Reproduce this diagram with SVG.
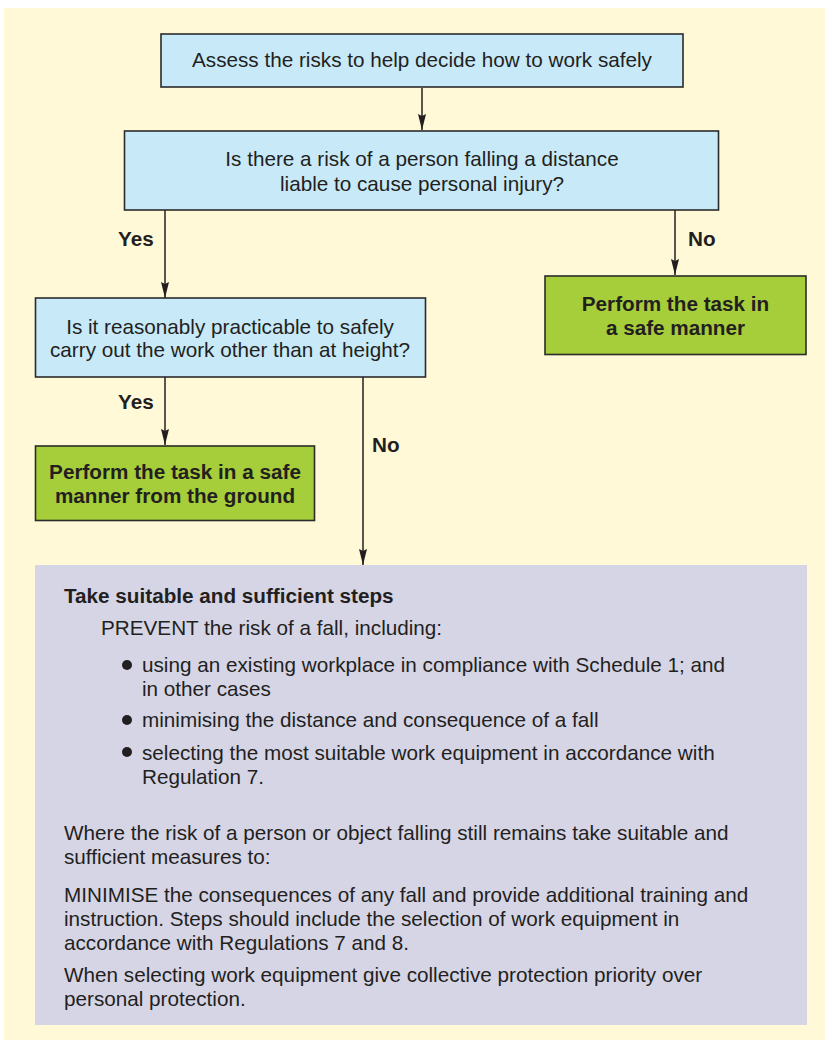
<svg xmlns="http://www.w3.org/2000/svg" width="828" height="1042" viewBox="0 0 828 1042">
<defs>
<style>
.t{font-family:"Liberation Sans",Arial,sans-serif;font-size:20.7px;fill:#231f20}
.b{font-weight:bold}
.c{text-anchor:middle}
.q{fill:#c7e9f8;stroke:#2b2b2b;stroke-width:1.6}
.g{fill:#a6cd3a;stroke:#2b2b2b;stroke-width:1.6}
.ln{stroke:#231f20;stroke-width:1.5;fill:none;marker-end:url(#ah)}
</style>
<marker id="ah" viewBox="0 0 16 8" refX="16" refY="4" markerWidth="16" markerHeight="8" markerUnits="userSpaceOnUse" orient="auto">
<path d="M0,0 L2,4 L0,8 L16,4 Z" fill="#231f20"/>
</marker>
</defs>
<rect x="0" y="0" width="828" height="1042" fill="#ffffff"/>
<rect x="4" y="8" width="821" height="1032" fill="#fff9d7"/>
<g id="connectors">
<line class="ln" x1="422" y1="88" x2="422" y2="130"/>
<line class="ln" x1="165" y1="210" x2="165" y2="298"/>
<line class="ln" x1="675" y1="210" x2="675" y2="275"/>
<line class="ln" x1="165" y1="377" x2="165" y2="445"/>
<line class="ln" x1="363" y1="377" x2="363" y2="565"/>
<text class="t b" x="118" y="246">Yes</text>
<text class="t b" x="688" y="246">No</text>
<text class="t b" x="118" y="409">Yes</text>
<text class="t b" x="372" y="452">No</text>
</g>
<g id="assess">
<rect class="q" x="161" y="34" width="522" height="53"/>
<text class="t c" x="422" y="67">Assess the risks to help decide how to work safely</text>
</g>
<g id="risk-question">
<rect class="q" x="124.5" y="131" width="594" height="79"/>
<text class="t c" x="422" y="166">Is there a risk of a person falling a distance</text>
<text class="t c" x="422" y="191">liable to cause personal injury?</text>
</g>
<g id="practicable-question">
<rect class="q" x="35.5" y="298" width="390" height="79"/>
<text class="t c" x="230" y="334">Is it reasonably practicable to safely</text>
<text class="t c" x="230" y="357">carry out the work other than at height?</text>
</g>
<g id="safe-manner">
<rect class="g" x="545" y="276" width="261" height="78.5"/>
<text class="t b c" x="675.5" y="311">Perform the task in</text>
<text class="t b c" x="675.5" y="335">a safe manner</text>
</g>
<g id="ground">
<rect class="g" x="35.5" y="446" width="279" height="74.5"/>
<text class="t b c" x="175" y="479">Perform the task in a safe</text>
<text class="t b c" x="175" y="503">manner from the ground</text>
</g>
<g id="steps">
<rect x="35" y="565" width="772" height="460" fill="#d6d5e6"/>
<text class="t b" x="64" y="603">Take suitable and sufficient steps</text>
<text class="t" x="101" y="635">PREVENT the risk of a fall, including:</text>
<circle cx="127" cy="665" r="5" fill="#231f20"/>
<text class="t" x="142" y="672">using an existing workplace in compliance with Schedule 1; and</text>
<text class="t" x="142" y="696">in other cases</text>
<circle cx="127" cy="720" r="5" fill="#231f20"/>
<text class="t" x="142" y="727">minimising the distance and consequence of a fall</text>
<circle cx="127" cy="752" r="5" fill="#231f20"/>
<text class="t" x="142" y="760">selecting the most suitable work equipment in accordance with</text>
<text class="t" x="142" y="784">Regulation 7.</text>
<text class="t" x="64" y="840">Where the risk of a person or object falling still remains take suitable and</text>
<text class="t" x="64" y="864">sufficient measures to:</text>
<text class="t" x="64" y="902">MINIMISE the consequences of any fall and provide additional training and</text>
<text class="t" x="64" y="926">instruction. Steps should include the selection of work equipment in</text>
<text class="t" x="64" y="950">accordance with Regulations 7 and 8.</text>
<text class="t" x="64" y="982">When selecting work equipment give collective protection priority over</text>
<text class="t" x="64" y="1006">personal protection.</text>
</g>
</svg>
